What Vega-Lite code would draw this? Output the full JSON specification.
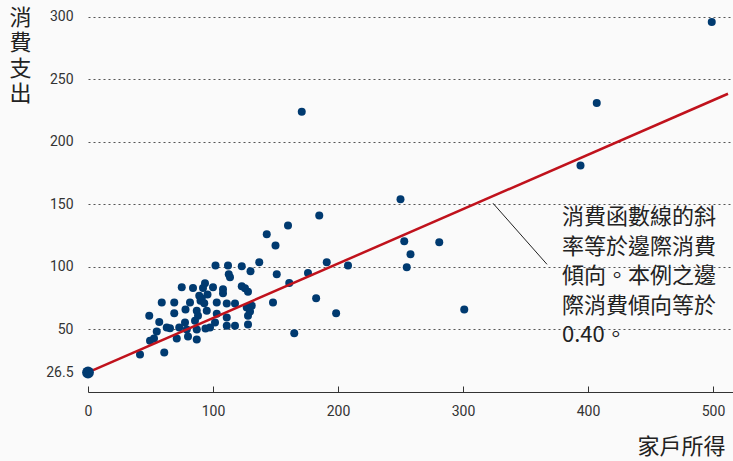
{
  "$schema": "https://vega.github.io/schema/vega-lite/v6.json",
  "width": 645,
  "height": 392,
  "autosize": {"type": "none"},
  "padding": {"left": 88, "top": 0, "right": 0, "bottom": 69},
  "background": "#fafafa",
  "config": {"view": {"stroke": null}},
  "datasets": {
    "pts": [
      {"x": 499, "y": 295.6}, {"x": 407, "y": 231}, {"x": 394, "y": 181}, {"x": 171, "y": 224},
      {"x": 250, "y": 154}, {"x": 253, "y": 120.4}, {"x": 281, "y": 119.6}, {"x": 258, "y": 110},
      {"x": 255, "y": 99.6}, {"x": 301, "y": 66},
      {"x": 185, "y": 141}, {"x": 160, "y": 133}, {"x": 143, "y": 126}, {"x": 150, "y": 117},
      {"x": 191, "y": 103.6}, {"x": 208, "y": 101}, {"x": 151, "y": 94}, {"x": 176, "y": 95},
      {"x": 161, "y": 87}, {"x": 148, "y": 71.6}, {"x": 182.5, "y": 75}, {"x": 198.5, "y": 63},
      {"x": 165, "y": 47},
      {"x": 102, "y": 101}, {"x": 112, "y": 101}, {"x": 123, "y": 100.4}, {"x": 130, "y": 96.4},
      {"x": 137, "y": 103.6}, {"x": 112.6, "y": 94}, {"x": 113.6, "y": 91.6}, {"x": 93.6, "y": 86.8},
      {"x": 100, "y": 83.6}, {"x": 108, "y": 82}, {"x": 123, "y": 84.4}, {"x": 125.6, "y": 82.8},
      {"x": 128, "y": 80}, {"x": 95.6, "y": 78}, {"x": 108, "y": 78.8}, {"x": 91, "y": 74.8},
      {"x": 103, "y": 71.6}, {"x": 111, "y": 70.8}, {"x": 117.6, "y": 70.8}, {"x": 127, "y": 67.6},
      {"x": 129.6, "y": 64.4}, {"x": 131, "y": 69}, {"x": 128, "y": 61}, {"x": 95, "y": 65},
      {"x": 103, "y": 62.6}, {"x": 111, "y": 59.6}, {"x": 101.6, "y": 55.6}, {"x": 97.6, "y": 51.6},
      {"x": 111, "y": 53}, {"x": 117.6, "y": 53}, {"x": 128, "y": 54}, {"x": 94, "y": 50.8},
      {"x": 75, "y": 83.6}, {"x": 84, "y": 83}, {"x": 92, "y": 83}, {"x": 89, "y": 77},
      {"x": 59, "y": 71.6}, {"x": 69, "y": 71.6}, {"x": 81.6, "y": 71.6}, {"x": 90, "y": 73},
      {"x": 93, "y": 71}, {"x": 69, "y": 63}, {"x": 78, "y": 66}, {"x": 87, "y": 65},
      {"x": 88, "y": 61}, {"x": 49, "y": 61}, {"x": 85.6, "y": 57}, {"x": 57, "y": 56},
      {"x": 77.6, "y": 55.6}, {"x": 63, "y": 51.6}, {"x": 65.6, "y": 51}, {"x": 73, "y": 51.6},
      {"x": 55, "y": 48.4}, {"x": 79, "y": 50}, {"x": 87, "y": 50},
      {"x": 49.6, "y": 41}, {"x": 52.8, "y": 42.8}, {"x": 71, "y": 42.8}, {"x": 80, "y": 44.4},
      {"x": 87, "y": 42}, {"x": 41.6, "y": 30}, {"x": 61, "y": 31.6}
    ],
    "fit": [{"x": 0, "y": 15.6}, {"x": 512, "y": 238.3}],
    "intercept": [{"x": 0, "y": 15.6}],
    "leader": [{"x": 324, "y": 150.8, "x2": 367.2, "y2": 102}],
    "note": [{"x": 379.2, "y": 147.6, "label": ["消費函數線的斜", "率等於邊際消費", "傾向。本例之邊", "際消費傾向等於", "0.40。"]}]
  },
  "layer": [
    {
      "data": {"name": "pts"},
      "mark": {"type": "circle", "size": 64, "opacity": 1, "color": "#003a70"},
      "encoding": {
        "x": {
          "field": "x", "type": "quantitative",
          "scale": {"domain": [0, 516], "nice": false, "zero": false},
          "axis": {
            "values": [0, 100, 200, 300, 400, 500],
            "grid": false, "labelFlush": false,
            "domain": true, "domainColor": "#333", "domainWidth": 1,
            "ticks": true, "tickSize": -6, "tickColor": "#333",
            "labelPadding": 18, "labelFontSize": 14, "labelFont": "Roboto", "labelColor": "#333",
            "title": "家戶所得", "titleFont": "Noto Sans CJK TC", "titleFontSize": 22,
            "titleFontWeight": "normal", "titleColor": "#222",
            "titleAnchor": null, "titleAlign": "right", "titleBaseline": "top",
            "titleX": 637, "titleY": 44
          }
        },
        "y": {
          "field": "y", "type": "quantitative",
          "scale": {"domain": [0, 313.2], "nice": false, "zero": false},
          "axis": {
            "values": [15.6, 50, 100, 150, 200, 250, 300],
            "labelExpr": "datum.value < 20 ? '26.5' : datum.label",
            "domain": false, "ticks": false,
            "grid": true, "gridColor": "#555", "gridDash": [2, 3], "gridWidth": 1,
            "gridOpacity": {"condition": {"test": "datum.value < 20", "value": 0}, "value": 1},
            "labelPadding": 15, "labelFontSize": 14, "labelFont": "Roboto", "labelColor": "#333",
            "title": ["消", "費", "支", "出"], "titleFont": "Noto Sans CJK TC", "titleFontSize": 22,
            "titleFontWeight": "normal", "titleColor": "#222", "titleAngle": 0,
            "titleAnchor": null, "titleAlign": "left", "titleBaseline": "top", "titleLineHeight": 25.5,
            "titleX": -79, "titleY": 7
          }
        }
      }
    },
    {
      "data": {"name": "fit"},
      "mark": {"type": "line", "color": "#c0121c", "strokeWidth": 2.5},
      "encoding": {
        "x": {"field": "x", "type": "quantitative"},
        "y": {"field": "y", "type": "quantitative"}
      }
    },
    {
      "data": {"name": "intercept"},
      "mark": {"type": "circle", "size": 140, "opacity": 1, "color": "#003a70"},
      "encoding": {
        "x": {"field": "x", "type": "quantitative"},
        "y": {"field": "y", "type": "quantitative"}
      }
    },
    {
      "data": {"name": "leader"},
      "mark": {"type": "rule", "color": "#222", "strokeWidth": 1},
      "encoding": {
        "x": {"field": "x", "type": "quantitative"},
        "y": {"field": "y", "type": "quantitative"},
        "x2": {"field": "x2"},
        "y2": {"field": "y2"}
      }
    },
    {
      "data": {"name": "note"},
      "mark": {"type": "text", "align": "left", "baseline": "top", "font": "Noto Sans CJK TC", "fontSize": 22, "lineHeight": 29.5, "color": "#222"},
      "encoding": {
        "x": {"field": "x", "type": "quantitative"},
        "y": {"field": "y", "type": "quantitative"},
        "text": {"field": "label"}
      }
    }
  ]
}
